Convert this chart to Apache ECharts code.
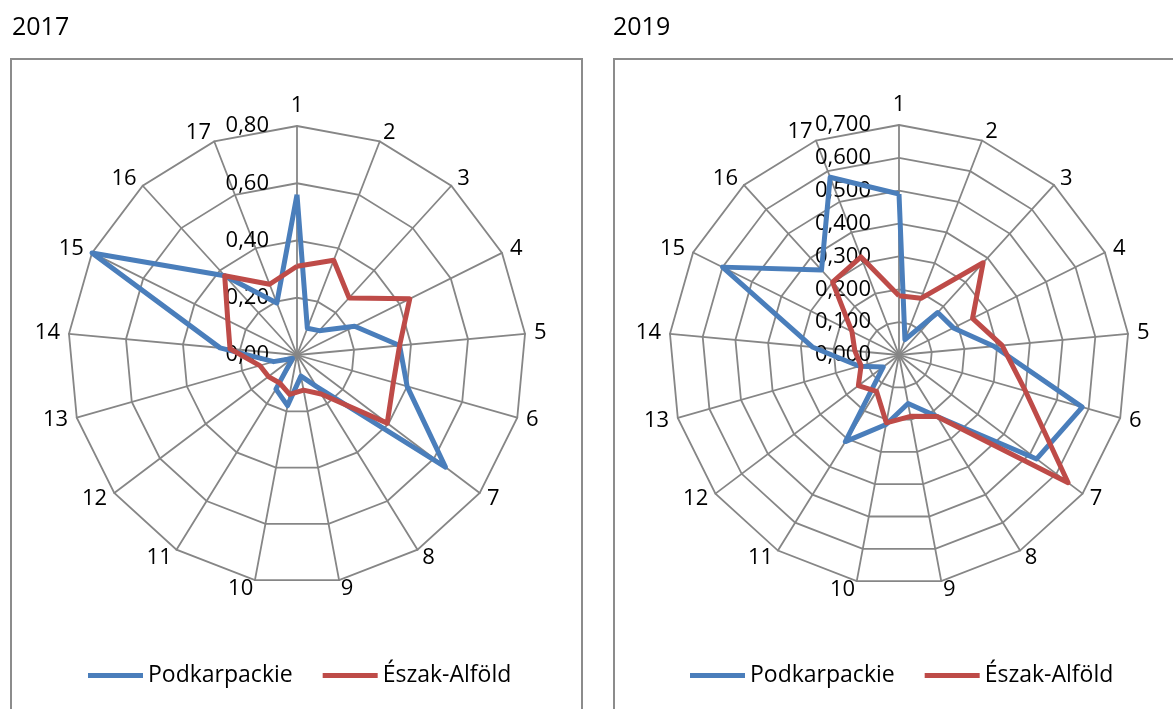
<!DOCTYPE html>
<html>
<head>
<meta charset="utf-8">
<script src="https://cdn.jsdelivr.net/npm/echarts@6/dist/echarts.min.js"></script>
<style>
html,body{margin:0;padding:0;background:#fff;}
#chart{width:1173px;height:709px;}
</style>
</head>
<body>
<div id="chart"></div>
<script>
var categories = ['1','2','3','4','5','6','7','8','9','10','11','12','13','14','15','16','17'];
var seriesNames = ['Podkarpackie', 'Észak-Alföld'];
var titles = ['2017', '2019'];
var pod2017 = [0.56, 0.10, 0.115, 0.225, 0.36, 0.40, 0.65, 0.13, 0.075, 0.18, 0.14, 0.02, 0.085, 0.27, 0.80, 0.375, 0.195];
var alf2017 = [0.31, 0.355, 0.27, 0.44, 0.36, 0.35, 0.395, 0.16, 0.125, 0.14, 0.115, 0.125, 0.135, 0.235, 0.27, 0.375, 0.265];
var pod2019 = [0.49, 0.05, 0.175, 0.185, 0.29, 0.58, 0.525, 0.22, 0.15, 0.215, 0.31, 0.06, 0.125, 0.265, 0.60, 0.35, 0.58];
var alf2019 = [0.18, 0.185, 0.38, 0.25, 0.315, 0.40, 0.645, 0.22, 0.19, 0.21, 0.13, 0.155, 0.12, 0.135, 0.16, 0.30, 0.32];
var max2017 = 0.8, split2017 = 4, dec2017 = 2;
var max2019 = 0.7, split2019 = 7, dec2019 = 3;

var BLUE = '#4a7ebb', RED = '#be4b48', GRID = '#868686';
var FONT = 'Open Sans';

// ECharts places indicators counter-clockwise; order them so they read clockwise
var order = [0];
for (var k = categories.length - 1; k >= 1; k--) order.push(k);
function reorder(arr) { return order.map(function (i) { return arr[i]; }); }

function makeRadar(center, radius, max, splitNumber, decimals) {
  return {
    center: center,
    radius: radius,
    startAngle: 90,
    shape: 'polygon',
    splitNumber: splitNumber,
    nameGap: 9,
    axisName: { color: '#000', fontSize: 22, fontFamily: FONT },
    splitLine: { lineStyle: { color: GRID, width: 1.8 } },
    splitArea: { show: false },
    axisLine: { lineStyle: { color: GRID, width: 1.8 } },
    axisTick: { show: false },
    axisLabel: {
      show: false, color: '#000', fontSize: 22, fontFamily: FONT, margin: 28,
      formatter: function (v) { return Number(v).toFixed(decimals).replace('.', ','); }
    },
    indicator: reorder(categories).map(function (c, i) {
      var ind = { name: c, min: 0, max: max };
      if (i === 0) ind.axisLabel = { show: true };
      return ind;
    })
  };
}

function makeSeries(radarIndex, name, values, color) {
  return {
    type: 'radar',
    name: name,
    radarIndex: radarIndex,
    symbol: 'none',
    lineStyle: { color: color, width: 5 },
    itemStyle: { color: color },
    data: [{ name: name, value: reorder(values), lineStyle: { color: color, width: 5 }, itemStyle: { color: color } }]
  };
}

function makeLegend(left) {
  return {
    left: left, top: 664, orient: 'horizontal', padding: 0,
    data: seriesNames, icon: 'rect', itemWidth: 55, itemHeight: 5, itemGap: 30,
    textStyle: { color: '#000', fontSize: 23, fontFamily: FONT },
    selectedMode: false
  };
}

var chart = echarts.init(document.getElementById('chart'), null, { renderer: 'canvas' });
chart.setOption({
  animation: false,
  backgroundColor: '#fff',
  title: [
    { text: titles[0], left: 12, top: 15, padding: 0, textStyle: { color: '#000', fontSize: 25, fontWeight: 'normal', fontFamily: FONT } },
    { text: titles[1], left: 613, top: 15, padding: 0, textStyle: { color: '#000', fontSize: 25, fontWeight: 'normal', fontFamily: FONT } }
  ],
  graphic: [
    { type: 'rect', shape: { x: 11, y: 59, width: 571, height: 700 }, style: { fill: 'none', stroke: '#8c8c8c', lineWidth: 2 }, z: -1 },
    { type: 'rect', shape: { x: 614, y: 59, width: 600, height: 700 }, style: { fill: 'none', stroke: '#8c8c8c', lineWidth: 2 }, z: -1 }
  ],
  legend: [makeLegend(88), makeLegend(690)],
  radar: [
    makeRadar([297, 355], 229, max2017, split2017, dec2017),
    makeRadar([899, 355], 230, max2019, split2019, dec2019)
  ],
  series: [
    makeSeries(0, seriesNames[0], pod2017, BLUE),
    makeSeries(0, seriesNames[1], alf2017, RED),
    makeSeries(1, seriesNames[0], pod2019, BLUE),
    makeSeries(1, seriesNames[1], alf2019, RED)
  ]
});
</script>
</body>
</html>
